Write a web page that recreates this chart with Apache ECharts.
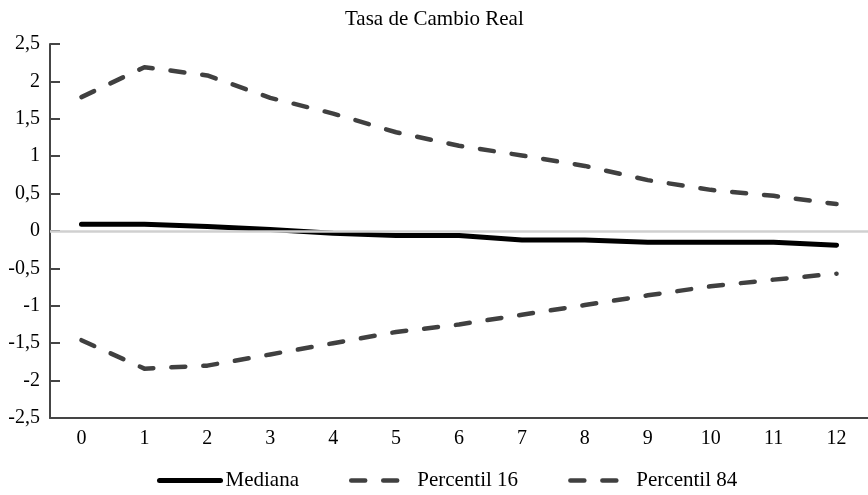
<!DOCTYPE html>
<html>
<head>
<meta charset="utf-8">
<script src="https://cdn.jsdelivr.net/npm/echarts@6/dist/echarts.min.js"></script>
<style>
  html, body { margin: 0; padding: 0; background: #ffffff; }
  #chart { width: 868px; height: 495px; }
</style>
</head>
<body>
<div id="chart"></div>
<script>
// Horizons (periods after the shock)
const periods = ['0', '1', '2', '3', '4', '5', '6', '7', '8', '9', '10', '11', '12'];

// Impulse response of the real exchange rate
const mediana = [0.09, 0.09, 0.06, 0.02, -0.03, -0.06, -0.06, -0.12, -0.12, -0.15, -0.15, -0.15, -0.19];
const percentil16 = [-1.46, -1.84, -1.80, -1.65, -1.50, -1.35, -1.25, -1.12, -0.99, -0.86, -0.74, -0.65, -0.57];
const percentil84 = [1.79, 2.19, 2.08, 1.78, 1.57, 1.32, 1.14, 1.01, 0.87, 0.68, 0.55, 0.47, 0.36];

const seriesNames = ['Mediana', 'Percentil 16', 'Percentil 84'];
const chartTitle = 'Tasa de Cambio Real';

const FONT = '"Liberation Serif", "Times New Roman", serif';
const AXIS_COLOR = '#454545';
const BAND_COLOR = '#404040';

const chart = echarts.init(document.getElementById('chart'), null, { renderer: 'canvas' });

const dashed = (name, values) => ({
  name: name,
  type: 'line',
  data: values,
  symbol: 'none',
  z: 3,
  lineStyle: { color: BAND_COLOR, width: 4.5, type: [14, 18], cap: 'round', join: 'round' },
  itemStyle: { color: BAND_COLOR }
});

chart.setOption({
  animation: false,
  backgroundColor: '#ffffff',
  title: {
    text: chartTitle,
    left: 340,
    top: 4,
    textStyle: { fontFamily: FONT, fontSize: 21, fontWeight: 'normal', color: '#000' }
  },
  legend: {
    data: seriesNames,
    left: 157,
    top: 470,
    padding: 0,
    itemWidth: 61,
    itemHeight: 14,
    itemGap: 50,
    itemStyle: { opacity: 0 },
    lineStyle: { width: 'inherit', type: 'inherit', cap: 'round' },
    textStyle: { fontFamily: FONT, fontSize: 21, color: '#000' }
  },
  grid: { left: 50, top: 44, height: 374, width: 825, containLabel: false },
  xAxis: {
    type: 'category',
    data: periods,
    boundaryGap: true,
    axisLine: { show: true, onZero: false, lineStyle: { color: AXIS_COLOR, width: 2 } },
    axisTick: { show: false },
    axisLabel: { margin: 11, fontFamily: FONT, fontSize: 20, color: '#000' },
    splitLine: { show: false }
  },
  yAxis: {
    type: 'value',
    min: -2.5,
    max: 2.5,
    interval: 0.5,
    axisLine: { show: true, lineStyle: { color: AXIS_COLOR, width: 2 } },
    axisTick: { show: true, inside: true, length: 10, lineStyle: { color: AXIS_COLOR, width: 2 } },
    axisLabel: {
      margin: 10,
      fontFamily: FONT,
      fontSize: 20,
      color: '#000',
      formatter: v => String(Math.round(v * 10) / 10).replace('.', ',')
    },
    splitLine: { show: false }
  },
  series: [
    {
      name: 'cero',
      type: 'line',
      data: [],
      z: 1,
      silent: true,
      markLine: {
        silent: true,
        symbol: 'none',
        label: { show: false },
        lineStyle: { color: '#d0d0d0', width: 2.5, type: 'solid' },
        data: [{ yAxis: 0 }]
      }
    },
    {
      name: seriesNames[0],
      type: 'line',
      data: mediana,
      symbol: 'none',
      z: 4,
      lineStyle: { color: '#000000', width: 5, cap: 'round', join: 'round' },
      itemStyle: { color: '#000000' }
    },
    dashed(seriesNames[1], percentil16),
    dashed(seriesNames[2], percentil84)
  ]
});
</script>
</body>
</html>
